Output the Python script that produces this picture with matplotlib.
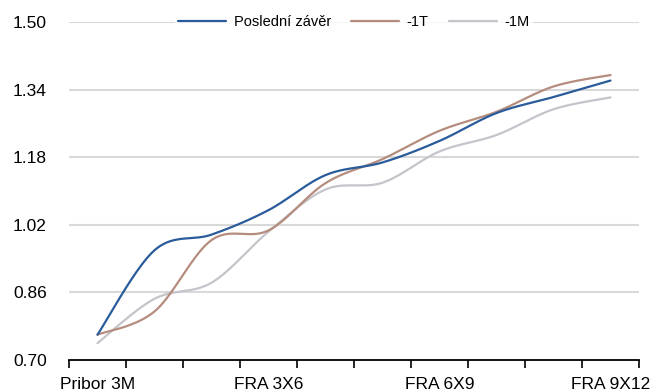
import numpy as np
import matplotlib
matplotlib.use("Agg")
import matplotlib.pyplot as plt

categories = ["Pribor 3M", "FRA 1X4", "FRA 2X5", "FRA 3X6", "FRA 4X7",
              "FRA 5X8", "FRA 6X9", "FRA 7X10", "FRA 8X11", "FRA 9X12"]
posledni = [0.76, 0.96, 0.997, 1.055, 1.138, 1.168, 1.219, 1.285, 1.323, 1.362]
minus_1t = [0.76, 0.815, 0.984, 1.007, 1.119, 1.176, 1.243, 1.288, 1.348, 1.375]
minus_1m = [0.74, 0.845, 0.883, 1.004, 1.104, 1.12, 1.194, 1.233, 1.294, 1.322]
series_names = ["Poslední závěr", "-1T", "-1M"]
yticks = [0.70, 0.86, 1.02, 1.18, 1.34, 1.50]
shown_labels = [0, 3, 6, 9]

colors = ["#2A5B9B", "#B58D7E", "#C4C4CA"]

plt.rcParams["font.family"] = ["Liberation Sans", "DejaVu Sans"]


def smooth(values, steps=40):
    """Bezier smoothing through every point (Catmull-Rom style tangents)."""
    y = np.asarray(values, float)
    x = np.arange(len(y), dtype=float)
    xp = np.concatenate([[x[0]], x, [x[-1]]])
    yp = np.concatenate([[y[0]], y, [y[-1]]])
    xs, ys = [], []
    t = np.linspace(0, 1, steps)
    for i in range(len(y) - 1):
        p0 = np.array([x[i], y[i]])
        p3 = np.array([x[i + 1], y[i + 1]])
        c1 = p0 + (np.array([xp[i + 2], yp[i + 2]]) - np.array([xp[i], yp[i]])) / 6
        c2 = p3 - (np.array([xp[i + 3], yp[i + 3]]) - np.array([xp[i + 1], yp[i + 1]])) / 6
        b = ((1 - t) ** 3)[:, None] * p0 + (3 * (1 - t) ** 2 * t)[:, None] * c1 \
            + (3 * (1 - t) * t ** 2)[:, None] * c2 + (t ** 3)[:, None] * p3
        xs.append(b[:, 0])
        ys.append(b[:, 1])
    return np.concatenate(xs), np.concatenate(ys)


fig = plt.figure(figsize=(6.56, 3.91), dpi=100)
ax = fig.add_axes([69 / 656, 1 - 360 / 391, 570 / 656, (360 - 22.3) / 391])

for i, (vals, name) in enumerate(zip([posledni, minus_1t, minus_1m], series_names)):
    sx, sy = smooth(vals)
    ax.plot(sx, sy, color=colors[i], lw=1.6, label=name, zorder=3 - i * 0.1,
            solid_capstyle="round")

ax.set_xlim(-0.5, len(categories) - 0.5)
ax.set_ylim(0.70, 1.50)
ax.set_yticks(yticks)
ax.set_yticklabels([f"{v:.2f}" for v in yticks])
for v in yticks[1:]:
    ax.axhline(v, color="#D9D9D9", lw=1.5, zorder=1)

ax.set_xticks(shown_labels)
ax.set_xticklabels([categories[i] for i in shown_labels])
ax.set_xticks(np.arange(-0.5, len(categories)), minor=True)
ax.tick_params(axis="x", which="major", length=0, pad=12, labelsize=12.5)
ax.tick_params(axis="x", which="minor", length=6, width=1.2, color="black")
ax.tick_params(axis="y", length=0, pad=16, labelsize=12.5)

for s in ["top", "right", "left"]:
    ax.spines[s].set_visible(False)
ax.spines["bottom"].set_linewidth(1.3)
ax.spines["bottom"].set_color("black")
ax.spines["bottom"].set_zorder(4)

leg = ax.legend(loc="center", bbox_to_anchor=(0.5, 1.0), ncol=3, frameon=True,
                fontsize=10.5, handlelength=3.3, handletextpad=0.5,
                columnspacing=1.4, borderpad=0.2, fancybox=False)
leg.get_frame().set_facecolor("white")
leg.get_frame().set_edgecolor("white")
leg.get_frame().set_linewidth(0)
leg.set_zorder(5)

fig.savefig("out.png", dpi=100)
